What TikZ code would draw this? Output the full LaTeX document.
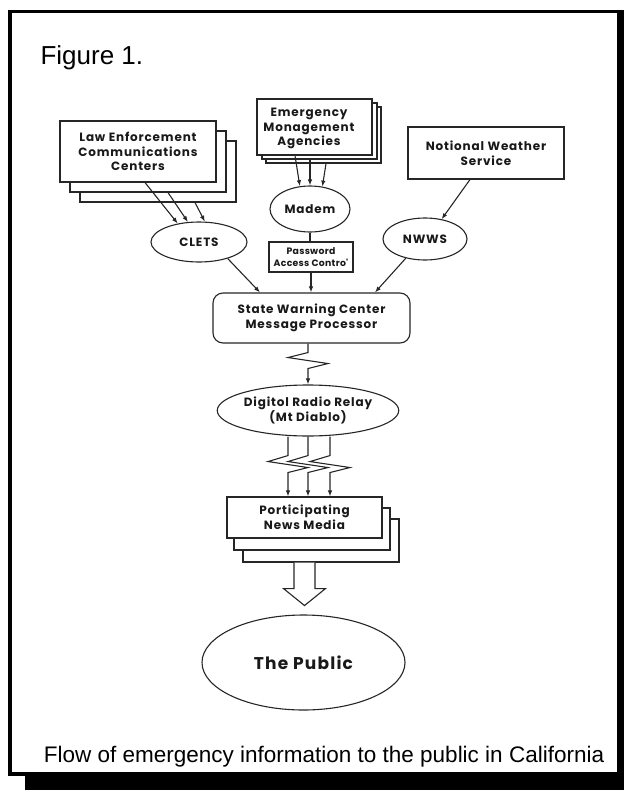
\documentclass[tikz,border=0pt]{standalone}
\usepackage{fontspec}
\setmainfont{Liberation Sans}
\newfontfamily\dfont{Poppins}[LetterSpace=7]
\newfontfamily\pfont{Poppins}[LetterSpace=3]
\usetikzlibrary{shapes.geometric,arrows.meta}
\begin{document}
\begin{tikzpicture}[x=1pt,y=-1pt,
  ln/.style={draw=black!85, line width=1.1pt},
  arr/.style={ln, -{Latex[length=6pt,width=4.5pt]}},
  lbl/.style={font=\dfont\bfseries\fontsize{12}{14.8}\selectfont, align=center, text=black!90},
  rbox/.style={ln, rectangle, fill=white, inner sep=0pt, lbl},
  oval/.style={ln, ellipse, inner sep=0pt, fill=white, lbl},
  frame/.style={draw=black, line width=3.2pt},
  shadow/.style={fill=black}
  ]
\useasboundingbox (0,0) rectangle (624,790);
% frame
\fill[shadow] (25,776) rectangle (624,790);
\fill[shadow] (617,10) rectangle (624,790);
\draw[frame] (10,11.5) rectangle (619,774);
\node[anchor=base west, font=\fontsize{26}{30}\selectfont] (title) at (37,64) {Figure 1.};
\node[anchor=base, font=\fontsize{22.5}{26}\selectfont] (caption) at (324,762) {Flow of emergency information to the public in California};

% Law enforcement stack
\node[rbox, minimum width=156pt, minimum height=61pt] (lecc3) at (158,171.5) {};
\node[rbox, minimum width=156pt, minimum height=61pt] (lecc2) at (148,161.5) {};
\node[rbox, minimum width=156pt, minimum height=61pt] (lecc) at (138,151.5) {Law Enforcement\\Communications\\Centers};

% Emergency management stack
\node[rbox, minimum width=115pt, minimum height=56pt] (ema3) at (323.5,135) {};
\node[rbox, minimum width=115pt, minimum height=56pt] (ema2) at (319.5,131) {};
\node[rbox, minimum width=115pt, minimum height=56pt] (ema) at (314.5,127) {};
\node[lbl] (ematext) at (309,128.5) {Emergency\\Monagement\\Agencies};

% NWS
\node[rbox, minimum width=156pt, minimum height=52pt] (nws) at (486,153) {Notional Weather\\Service};

% ovals
\node[oval, minimum width=80pt, minimum height=46pt] (madem) at (310,209) {Madem};
\node[oval, minimum width=96pt, minimum height=40pt] (clets) at (199,242) {CLETS};
\node[oval, minimum width=84pt, minimum height=42pt] (nwws) at (425,239) {NWWS};

% password
\node[rbox, minimum width=84pt, minimum height=30pt, font=\pfont\bfseries\fontsize{9.3}{12.5}\selectfont] (pw) at (311,257) {Password\\Access Contro'};

% state warning center
\node[rbox, rounded corners=10pt, minimum width=197pt, minimum height=50pt] (swc) at (311.5,318) {State Warning Center\\Message Processor};

% digital radio relay
\node[oval, minimum width=158pt, minimum height=51pt] (drr) at (308,410.5) {Digitol Radio Relay\\(Mt Diablo)};

% news media stack
\node[rbox, minimum width=156pt, minimum height=43pt] (pnm3) at (321,540.5) {};
\node[rbox, minimum width=156pt, minimum height=42pt] (pnm2) at (312,529) {};
\node[rbox, minimum width=155pt, minimum height=41pt] (pnm) at (304.5,517.5) {Porticipating\\News Media};

% public
\node[oval, minimum width=203pt, minimum height=95pt, font=\dfont\bfseries\fontsize{17}{20}\selectfont] (pub) at (303.5,662.5) {The Public};

% connectors
\draw[arr] ([xshift=7pt]lecc.south) -- (clets.139);
\draw[arr] ([xshift=20pt]lecc2.south) -- (clets.119);
\draw[arr] ([xshift=37pt]lecc3.south) -- (clets.74);

\draw[arr] ([xshift=-19.5pt]ema.south) -- (madem.114);
\draw[arr] ([xshift=-9.5pt]ema2.south) -- (madem.90);
\draw[arr] ([xshift=2.5pt]ema3.south) -- (madem.61);

\draw[arr] ([xshift=-16pt]nws.south) -- (nwws.50);

\draw[ln] (madem.south) -- (madem.south |- pw.north);
\draw[arr] (pw.south) -- (pw.south |- swc.north);
\draw[arr] (clets.-30) -- ([xshift=-51.5pt]swc.north);
\draw[arr] (nwws.-135) -- ([xshift=63.5pt]swc.north);

\draw[arr] (swc.south -| drr.north) -- ++(0,9) -- ++(-20,5) -- ++(40,6) -- ++(-20,5) -- (drr.north);

\foreach \dx/\px in {-20/-16.5, 0/3.5, 22/25.5}{
  \draw[arr] ([xshift=\dx pt]drr.south) -- ++(0,19) -- ++(-20,6) -- ++(40,6) -- ++(-20,5) -- ([xshift=\px pt]pnm.north);
}

\coordinate (ha) at (pnm.south |- pnm3.south);
\draw[ln, fill=white] ([xshift=-10.5pt]ha) -- ++(0,26) -- ++(-10.5,0) -- ++(21,17) -- ++(21,-17) -- ++(-10.5,0) -- ++(0,-26);
\end{tikzpicture}
\end{document}
